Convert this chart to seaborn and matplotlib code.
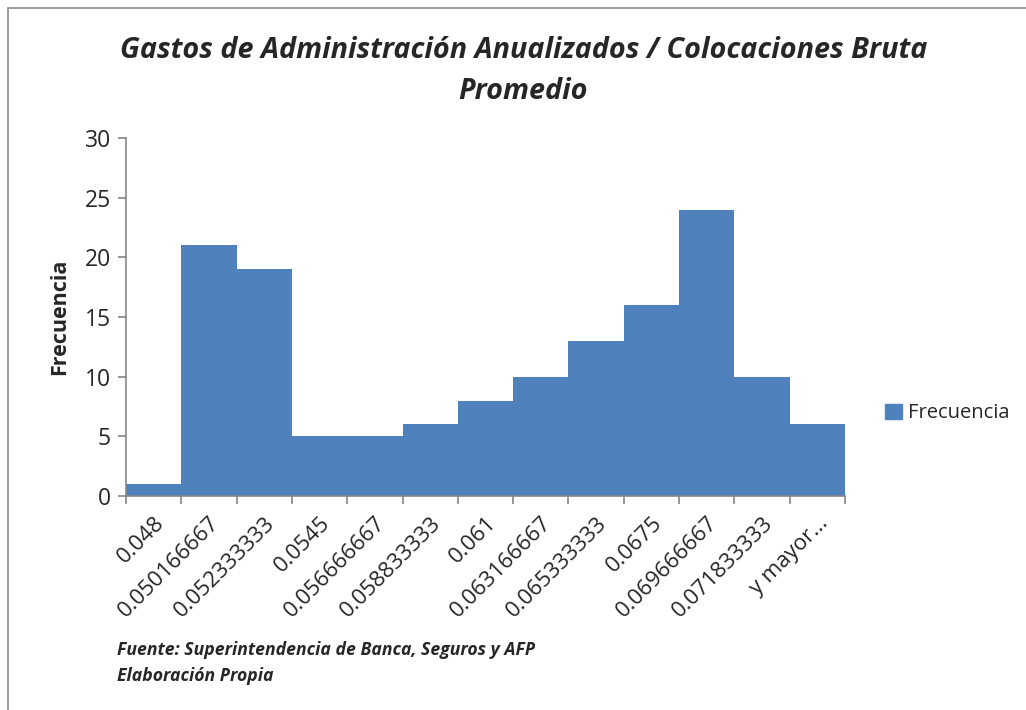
import numpy as np
import pandas as pd
import matplotlib
matplotlib.use("Agg")
import matplotlib.pyplot as plt
from matplotlib.patches import Patch
import seaborn as sns

# Histogram classes (upper bin limits) and their counts
clases = ["0.048", "0.050166667", "0.052333333", "0.0545", "0.056666667",
          "0.058833333", "0.061", "0.063166667", "0.065333333", "0.0675",
          "0.069666667", "0.071833333", "y mayor..."]
frecuencia = [1, 21, 19, 5, 5, 6, 8, 10, 13, 16, 24, 10, 6]

sns.set_style("white")
plt.rcParams["font.family"] = ["Open Sans", "DejaVu Sans"]

df = pd.DataFrame({"Clase": clases, "Frecuencia": frecuencia})
bar_color = "#4F81BD"
axis_gray = "#868686"

fig = plt.figure(figsize=(10.26, 7.10), dpi=100)
ax = fig.add_axes([0.1228, 0.3014, 0.7008, 0.5042])

sns.barplot(data=df, x="Clase", y="Frecuencia", color=bar_color,
            width=1.0, saturation=1, linewidth=0, ax=ax)

ax.set_xlim(-0.5, len(clases) - 0.5)
ax.set_ylim(0, 30)
ax.set_yticks(np.arange(0, 31, 5))
ax.tick_params(axis="y", labelsize=16.5, length=6, color=axis_gray,
               width=1.2, direction="out", left=True, pad=5)

# Category labels centred under each bar; tick marks on the bin edges
ax.set_xticks(np.arange(len(clases)))
ax.set_xticklabels(clases, rotation=45, ha="right", va="top",
                   rotation_mode="anchor", fontsize=16)
ax.tick_params(axis="x", which="major", length=0, pad=12)
ax.set_xticks(np.arange(-0.5, len(clases)), minor=True)
ax.tick_params(axis="x", which="minor", length=6, color=axis_gray,
               width=1.2, direction="out", bottom=True)

for side in ("top", "right"):
    ax.spines[side].set_visible(False)
for side in ("left", "bottom"):
    ax.spines[side].set_color(axis_gray)
    ax.spines[side].set_linewidth(1.2)

ax.set_xlabel("")
ax.set_ylabel("Frecuencia", fontsize=15.5, fontweight="bold", labelpad=10)

fig.text(0.51, 0.929, "Gastos de Administración Anualizados / Colocaciones Bruta",
         ha="center", va="center", fontsize=20.7, fontweight="bold",
         fontstyle="italic")
fig.text(0.51, 0.8715, "Promedio", ha="center", va="center", fontsize=20.7,
         fontweight="bold", fontstyle="italic")

handle = Patch(facecolor=bar_color, edgecolor=bar_color)
fig.legend([handle], ["Frecuencia"], loc="center left",
           bbox_to_anchor=(0.863, 0.418), frameon=False, fontsize=14.5,
           handlelength=0.8, handleheight=0.8, handletextpad=0.3,
           borderaxespad=0, borderpad=0)

fig.text(0.114, 0.085, "Fuente: Superintendencia de Banca, Seguros y AFP",
         fontsize=12.7, fontweight="bold", fontstyle="italic", va="center")
fig.text(0.114, 0.048, "Elaboración Propia", fontsize=12.7,
         fontweight="bold", fontstyle="italic", va="center")

# Page frame around the chart
frame_gray = "#8c8c8c"
fig.add_artist(plt.Line2D([0.008, 0.008], [0.0, 0.989], color=frame_gray,
                          lw=1.2, transform=fig.transFigure))
fig.add_artist(plt.Line2D([0.008, 1.0], [0.989, 0.989], color=frame_gray,
                          lw=1.2, transform=fig.transFigure))

fig.savefig("out.png", dpi=100)
